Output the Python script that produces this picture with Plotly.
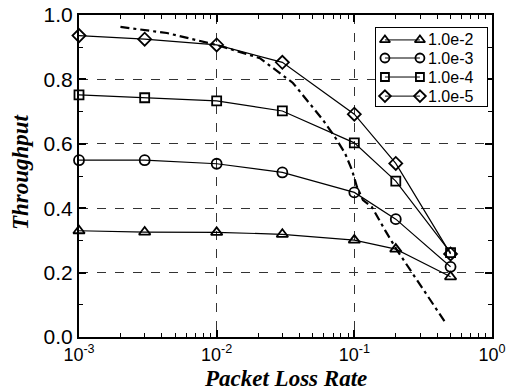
import plotly.graph_objects as go

# Packet loss rates where throughput was measured
loss_rate = [0.001, 0.003, 0.01, 0.03, 0.1, 0.2, 0.5]

# Throughput per bit-error-rate setting
series_names = ["1.0e-2", "1.0e-3", "1.0e-4", "1.0e-5"]
tp_1e2 = [0.330, 0.326, 0.325, 0.319, 0.301, 0.273, 0.187]
tp_1e3 = [0.549, 0.549, 0.538, 0.511, 0.449, 0.366, 0.218]
tp_1e4 = [0.752, 0.743, 0.733, 0.702, 0.603, 0.484, 0.262]
tp_1e5 = [0.936, 0.925, 0.907, 0.853, 0.692, 0.539, 0.258]
series_values = [tp_1e2, tp_1e3, tp_1e4, tp_1e5]
series_symbols = ["triangle-up-open", "circle-open", "square-open", "diamond-open"]
series_sizes = [10, 10, 9, 10]

# Analytical model curve (dash-dot)
model_x = [0.002, 0.00435, 0.01, 0.0206, 0.0358, 0.0592, 0.0723, 0.0855,
           0.0961, 0.1045, 0.1155, 0.134, 0.167, 0.204, 0.285, 0.455]
model_y = [0.963, 0.944, 0.907, 0.866, 0.789, 0.674, 0.621, 0.571,
           0.519, 0.466, 0.425, 0.404, 0.332, 0.270, 0.177, 0.047]

x_tickvals = [0.001, 0.01, 0.1, 1]
x_ticktext = ["10<sup>-3</sup>", "10<sup>-2</sup>", "10<sup>-1</sup>", "10<sup>0</sup>"]
y_tickvals = [0.0, 0.2, 0.4, 0.6, 0.8, 1.0]

fig = go.Figure()

for name, vals, sym, sz in zip(series_names, series_values, series_symbols, series_sizes):
    fig.add_trace(go.Scatter(
        x=loss_rate, y=vals, mode="lines+markers", name=name,
        line=dict(color="black", width=1.2),
        marker=dict(symbol=sym, size=sz, color="black", line=dict(width=1.8, color="black")),
        showlegend=False, cliponaxis=False,
    ))

fig.add_trace(go.Scatter(
    x=model_x, y=model_y, mode="lines", name="model",
    line=dict(color="black", width=2.2, dash="9px,4px,3px,4px"),
    showlegend=False,
))

# Boxed key (its own small subplot) with a marker at both ends of each sample line
key_rows = [0.846, 0.615, 0.372, 0.128]
key_line_x = [0.081, 0.396]
key_font = dict(family="Liberation Sans, Arial, sans-serif", size=16, color="black")
for name, sym, sz, ry in zip(series_names, series_symbols, series_sizes, key_rows):
    fig.add_trace(go.Scatter(
        x=key_line_x, y=[ry, ry], mode="lines+markers", xaxis="x2", yaxis="y2",
        line=dict(color="black", width=1),
        marker=dict(symbol=sym, size=sz - 1, color="black", line=dict(width=1.8, color="black")),
        showlegend=False, hoverinfo="skip", cliponaxis=False,
    ))
    fig.add_annotation(
        xref="x2", yref="y2", x=0.45, y=ry, text=name, showarrow=False,
        xanchor="left", yanchor="middle", font=key_font,
    )

title_font = dict(family="Liberation Serif, Times New Roman, serif", size=23, color="black")
fig.add_annotation(
    xref="paper", yref="paper", x=0.5, y=-0.128, text="<b><i>Packet Loss Rate</i></b>",
    showarrow=False, xanchor="center", yanchor="middle", font=title_font,
)
fig.add_annotation(
    xref="paper", yref="paper", x=-0.143, y=0.512, text="<b><i>Throughput</i></b>",
    showarrow=False, xanchor="center", yanchor="middle", textangle=-90, font=title_font,
)

fig.update_layout(
    width=519, height=390,
    margin=dict(l=79, r=27, t=15, b=53),
    paper_bgcolor="white", plot_bgcolor="white",
    xaxis=dict(
        type="log", range=[-3, 0], automargin=False,
        tickvals=x_tickvals, ticktext=x_ticktext,
        tickfont=dict(family="Liberation Sans, Arial, sans-serif", size=18, color="black"),
        ticks="inside", ticklen=7, tickwidth=1.5, tickcolor="black",
        minor=dict(ticks="inside", ticklen=4, tickwidth=1, tickcolor="black",
                   dtick="D1", showgrid=False),
        showline=True, linewidth=2.2, linecolor="black", mirror="allticks",
        showgrid=True, gridcolor="#333333", gridwidth=1, griddash="dash",
        zeroline=False,
    ),
    yaxis=dict(
        range=[0, 1], tickvals=y_tickvals, tickformat=".1f", automargin=False,
        tickfont=dict(family="Liberation Sans, Arial, sans-serif", size=21, color="black"),
        ticks="inside", ticklen=7, tickwidth=1.5, tickcolor="black",
        minor=dict(ticks="inside", ticklen=4, tickwidth=1, tickcolor="black",
                   dtick=0.1, showgrid=False),
        showline=True, linewidth=2.2, linecolor="black", mirror="allticks",
        showgrid=True, gridcolor="#333333", gridwidth=1, griddash="dash",
        zeroline=False,
    ),
    xaxis2=dict(domain=[0.719, 0.988], range=[0, 1], anchor="y2",
                showline=True, linewidth=1.2, linecolor="black", mirror=True,
                showgrid=False, zeroline=False, showticklabels=False, ticks=""),
    yaxis2=dict(domain=[0.717, 0.960], range=[0, 1], anchor="x2",
                showline=True, linewidth=1.2, linecolor="black", mirror=True,
                showgrid=False, zeroline=False, showticklabels=False, ticks=""),
    showlegend=False,
)

fig.write_html("out.html")
